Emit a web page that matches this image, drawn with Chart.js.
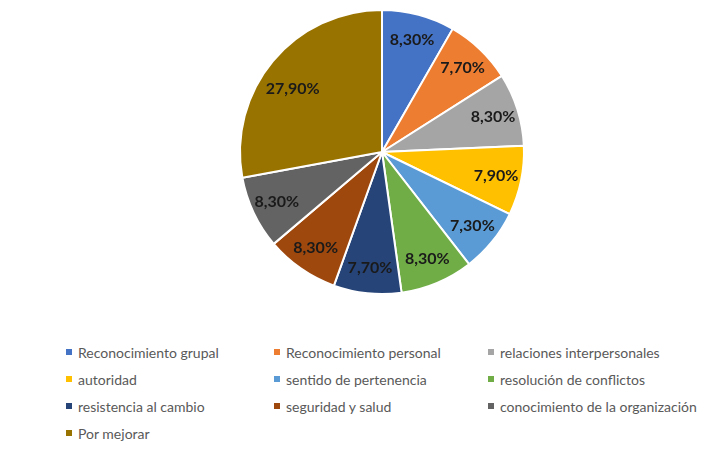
<!DOCTYPE html>
<html>
<head>
<meta charset="utf-8">
<script src="https://cdn.jsdelivr.net/npm/chart.js@4.4.1/dist/chart.umd.min.js"></script>
<style>
  html, body { margin: 0; padding: 0; background: #fff; }
  #wrap { position: relative; width: 723px; height: 450px; }
  #pie { position: absolute; left: 0; top: 0; }
  #legend {
    position: absolute; left: 66px; top: 343px;
    display: grid;
    grid-template-columns: 208px 214px 230px;
    grid-auto-rows: 27px;
    font-family: Lato, "Liberation Sans", sans-serif;
    font-size: 14px; color: #595959;
  }
  #legend div { display: flex; align-items: center; height: 18px; white-space: nowrap; }
  #legend span.box { width: 6px; height: 6px; margin-right: 6px; flex: none; }
</style>
</head>
<body>
<div id="wrap">
  <canvas id="pie" width="723" height="315"></canvas>
  <div id="legend"></div>
</div>
<script>
const categories = [
  "Reconocimiento grupal", "Reconocimiento personal", "relaciones interpersonales",
  "autoridad", "sentido de pertenencia", "resolución de conflictos",
  "resistencia al cambio", "seguridad y salud", "conocimiento de la organización",
  "Por mejorar"
];
const porcentajes = [8.3, 7.7, 8.3, 7.9, 7.3, 8.3, 7.7, 8.3, 8.3, 27.9];
const colores = [
  "#4472C4", "#ED7D31", "#A5A5A5", "#FFC000", "#5B9BD5",
  "#70AD47", "#264478", "#9E480E", "#636363", "#997300"
];

// etiquetas dentro de cada porción, cerca del borde
const etiquetas = {
  id: "etiquetas",
  afterDatasetsDraw(chart) {
    const ctx = chart.ctx;
    const meta = chart.getDatasetMeta(0);
    ctx.save();
    ctx.font = "bold 16px Lato, 'Liberation Sans', sans-serif";
    ctx.fillStyle = "#1a1a1a";
    ctx.textAlign = "center";
    ctx.textBaseline = "middle";
    meta.data.forEach((arc, i) => {
      const p = arc.getProps(["x", "y", "startAngle", "endAngle", "outerRadius"], true);
      const a = (p.startAngle + p.endAngle) / 2 - (i === 9 ? 0.08 : 0);
      const r = p.outerRadius * (i === 9 ? 0.77 : 0.82);
      const txt = porcentajes[i].toFixed(2).replace(".", ",") + "%";
      ctx.fillText(txt, p.x + Math.cos(a) * r, p.y + Math.sin(a) * r);
    });
    ctx.restore();
  }
};

const chart = new Chart(document.getElementById("pie"), {
  type: "pie",
  data: {
    labels: categories,
    datasets: [{
      data: porcentajes,
      backgroundColor: colores,
      borderColor: "#ffffff",
      borderWidth: 2
    }]
  },
  options: {
    responsive: false,
    animation: false,
    layout: { padding: { left: 239, right: 198, top: 9, bottom: 20 } },
    plugins: {
      legend: { display: false },
      tooltip: { enabled: false }
    }
  },
  plugins: [etiquetas]
});

// leyenda en tres columnas
const legend = document.getElementById("legend");
categories.forEach((c, i) => {
  const item = document.createElement("div");
  item.innerHTML = '<span class="box" style="background:' + colores[i] + '"></span>' + c;
  legend.appendChild(item);
});
</script>
</body>
</html>
